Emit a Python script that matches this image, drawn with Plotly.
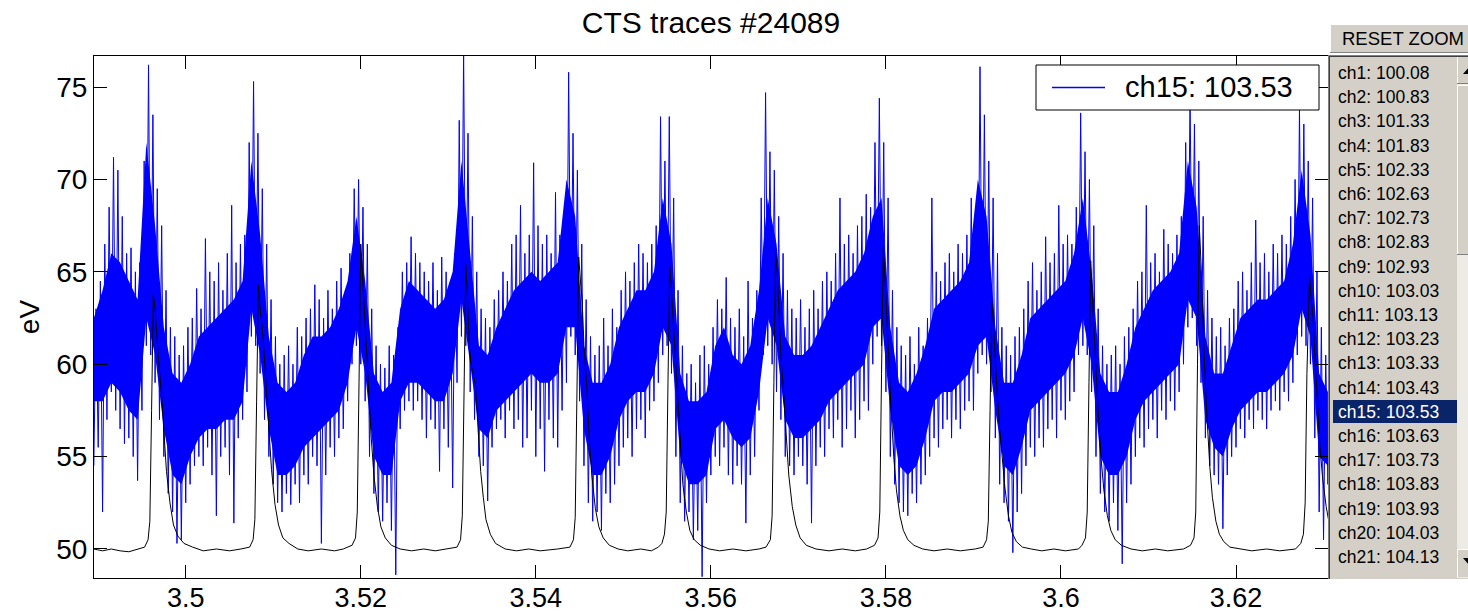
import plotly.graph_objects as go

# ---------------- data ----------------
title_text = "CTS traces #24089"
y_label = "eV"
x_tick_vals = [3.5, 3.52, 3.54, 3.56, 3.58, 3.6, 3.62]
x_tick_text = ["3.5", "3.52", "3.54", "3.56", "3.58", "3.6", "3.62"]
y_tick_vals = [50, 55, 60, 65, 70, 75]
x_range = [3.48952, 3.63051]
y_range = [48.43, 76.68]
legend_label = "ch15: 103.53"
button_label = "RESET ZOOM"
channels = ["ch1: 100.08", "ch2: 100.83", "ch3: 101.33", "ch4: 101.83", "ch5: 102.33",
            "ch6: 102.63", "ch7: 102.73", "ch8: 102.83", "ch9: 102.93", "ch10: 103.03",
            "ch11: 103.13", "ch12: 103.23", "ch13: 103.33", "ch14: 103.43", "ch15: 103.53",
            "ch16: 103.63", "ch17: 103.73", "ch18: 103.83", "ch19: 103.93", "ch20: 104.03",
            "ch21: 104.13"]
selected_channel = 14

# blue channel: per-bin max / min (bins of 0.0005 starting at 3.4895)
blue_t0 = 3.4895
blue_dt = 0.0005
blue_hi = [63.0, 64.5, 66.5, 68.5, 71.2, 70.5, 68.0, 66.0, 66.3, 65.0, 65.5,
           71.0, 76.2, 73.5, 69.5, 67.5, 64.0, 62.0, 61.5, 60.5, 61.0, 62.0,
           62.5, 64.1, 63.0, 66.8, 65.0, 64.5, 65.5, 64.0, 66.0, 68.6, 65.5, 66.5, 67.0,
           72.0, 75.3, 72.5, 69.5, 66.5, 63.5,
           61.5, 60.0, 60.5, 61.0, 60.0, 62.0, 61.5,
           62.5, 63.0, 64.3, 63.5, 62.5, 64.0, 63.0, 64.5, 65.2, 64.0, 66.0,
           69.5, 70.0, 68.5, 66.5, 63.0,
           61.0, 60.0, 59.8, 61.0, 60.5, 62.0,
           65.0, 65.5, 66.9, 66.0, 65.5,
           65.0, 64.5, 65.5, 64.0, 65.8, 65.0, 64.5, 66.0,
           73.2, 76.9, 72.5, 68.0,
           65.0, 63.0, 62.5, 62.0,
           63.5, 64.0, 65.0, 64.5, 66.5, 67.0, 68.6, 66.0, 67.0, 70.9, 67.5, 66.5, 67.0, 66.0, 69.3, 67.0, 68.0,
           75.8, 72.5, 70.5, 66.5,
           63.5, 61.5, 60.5, 61.0, 62.5, 61.0, 63.0, 62.0,
           64.0, 65.0, 64.5, 65.5, 66.5, 66.0, 65.5, 66.5, 67.5,
           73.4, 71.0, 73.4, 69.0,
           64.0, 61.0, 59.5, 60.0, 59.0, 60.5, 61.0, 60.0,
           62.0, 63.5, 63.0, 64.7, 62.5, 62.0, 63.0, 61.5, 64.5, 62.5, 64.0,
           69.0, 74.7, 71.5, 70.5, 68.0, 66.0,
           64.0, 63.0, 62.5, 63.5, 62.0, 63.0, 64.0, 63.0, 64.5,
           65.0, 64.5, 66.0, 69.0, 66.5, 67.0, 66.0, 67.5, 68.0, 69.2, 68.5,
           72.0, 74.4, 72.0, 69.0,
           64.0, 62.0, 61.0, 60.5, 61.5, 60.0, 62.0, 61.0, 62.5,
           69.0, 65.0, 64.5, 65.5, 66.0, 65.0, 66.5, 66.0, 67.0, 69.0, 67.5,
           76.1, 73.5, 71.0, 69.0,
           66.0, 62.0, 61.0, 60.5, 61.5, 62.0, 63.0,
           64.5, 65.5, 64.0, 65.0, 66.9, 65.5, 66.0, 68.6, 66.5, 67.0, 66.5, 68.5,
           73.6, 71.5, 70.0, 67.5,
           63.0, 61.0, 60.0, 60.5, 61.0, 60.0, 61.5, 62.0, 63.0,
           64.5, 65.0, 68.6, 65.5, 66.0, 65.0, 67.3, 66.5, 66.0, 67.0, 68.0,
           72.0, 74.5, 73.0, 71.0, 68.0,
           64.0, 62.5, 61.5, 62.0, 61.0, 62.5, 63.0,
           64.5, 65.0, 64.0, 65.5, 67.8, 65.5, 66.0, 65.0, 66.5, 66.0, 67.0, 66.5, 68.0, 70.0,
           73.8, 73.0, 71.0, 69.0,
           65.0, 62.0, 60.5, 60.0]
blue_lo = [54.5, 55.5, 52.0, 57.0, 58.5, 57.5, 56.5, 55.7, 56.0, 55.0, 53.7,
           57.5, 61.0, 60.5, 59.0, 57.0, 55.0, 53.0, 52.0, 50.3, 50.5, 52.5,
           53.5, 54.5, 55.0, 54.5, 55.5, 54.0, 51.8, 55.0, 55.5, 54.0, 51.4, 56.0, 57.0,
           58.5, 61.5, 61.0, 59.5, 57.0, 55.0,
           53.5, 52.5, 52.0, 53.0, 52.4, 53.5, 52.5,
           54.0, 53.5, 55.0, 54.5, 50.3, 54.0, 55.5, 55.0, 56.0, 56.5, 58.0,
           60.0, 61.0, 60.0, 58.0, 55.0,
           53.0, 52.0, 51.5, 52.5, 51.0, 48.6,
           56.5, 57.5, 58.0, 57.5, 58.0,
           57.0, 56.0, 57.0, 56.5, 54.2, 56.5, 55.5, 53.3,
           59.0, 61.5, 61.0, 58.5,
           57.0, 55.0, 54.5, 52.6,
           55.5, 56.5, 57.0, 56.0, 57.5, 56.5, 57.0, 55.5, 56.0, 57.5, 55.0, 56.5, 54.2, 57.0, 56.0, 55.5, 57.5,
           59.0, 61.5, 60.5, 58.0,
           54.5, 52.5, 51.5, 52.0, 51.0, 53.0, 52.5, 53.5,
           54.5, 55.5, 56.0, 55.0, 56.5, 57.0, 56.0, 57.5, 58.0,
           59.0, 60.5, 61.0, 59.5,
           55.0, 52.5, 51.5, 52.0, 50.5, 51.0, 48.5, 52.5,
           54.0, 55.0, 54.5, 55.5, 54.0, 53.5, 54.5, 53.5, 51.4, 54.0, 55.0,
           57.5, 60.5, 61.0, 60.0, 58.5, 57.0,
           55.0, 54.5, 54.0, 55.0, 54.5, 53.5, 51.4, 54.5, 55.5,
           55.0, 56.5, 56.0, 57.0, 55.5, 56.5, 57.5, 56.0, 57.0, 58.0, 57.5,
           60.0, 61.5, 61.0, 58.5,
           55.0, 53.5, 52.5, 52.0, 51.8, 53.0, 52.5, 53.5, 54.0,
           55.0, 56.0, 55.5, 56.5, 57.0, 56.0, 57.0, 56.5, 57.5, 58.0, 57.5,
           59.5, 60.5, 60.0, 58.5,
           56.0, 53.5, 52.5, 51.5, 49.8, 52.0, 53.0,
           54.5, 55.5, 55.0, 56.0, 55.5, 56.5, 57.0, 56.0, 57.5, 57.0, 58.0, 58.5,
           60.5, 61.0, 60.5, 58.5,
           55.0, 53.0, 52.0, 51.5, 52.5, 51.0, 49.2, 52.5, 53.5,
           55.0, 56.0, 55.5, 56.5, 57.0, 56.0, 57.5, 57.0, 58.0, 57.5, 58.5,
           60.0, 62.0, 62.5, 61.0, 59.0,
           56.0, 54.5, 54.0, 53.5, 51.1, 54.0, 55.0,
           55.5, 56.5, 56.0, 57.0, 56.5, 57.5, 57.0, 56.5, 57.5, 58.0, 57.5, 58.5, 58.0, 59.0,
           60.5, 61.5, 61.0, 60.0,
           56.0, 52.0, 50.5, 53.5]

# blue channel: dense core band (bins of 0.001 starting at 3.4895)
core_t0 = 3.4895
core_dt = 0.001
core_top = [62.5, 64.0, 66.0, 65.5, 64.5, 63.5,
            72.0, 67.5,
            62.0, 59.5, 59.0, 60.0, 61.5, 62.0, 62.5, 63.0, 63.5, 64.5,
            71.0, 67.0,
            61.5, 59.0, 58.5, 59.0, 60.5, 61.5, 61.5, 62.0, 63.0, 64.5,
            68.0, 64.5,
            59.5, 58.5, 59.0, 63.0, 64.5, 64.0, 63.5, 63.0, 63.5, 65.0,
            71.0, 66.0,
            61.0, 60.5, 62.0, 63.0, 64.0, 64.5, 65.0, 64.5, 65.0, 65.5,
            70.0, 68.0,
            61.0, 59.0, 59.0, 60.0, 62.0, 63.0, 64.0, 64.0, 65.0,
            69.0, 66.5,
            59.5, 58.0, 58.0, 58.5, 61.0, 62.0, 60.5, 60.0, 61.0, 64.0,
            69.0, 66.5,
            61.5, 60.5, 60.5, 61.0, 62.0, 63.0, 64.0, 64.5, 65.0, 66.0, 68.0,
            69.0, 62.0,
            59.0, 58.5, 59.5, 61.0, 63.0, 63.5, 64.0, 64.5, 65.5,
            70.0, 68.0,
            62.0, 59.0, 59.0, 60.5, 62.5, 63.0, 63.5, 64.0, 64.5, 66.0,
            69.0, 65.0,
            59.5, 58.5, 58.5, 60.0, 62.0, 63.0, 64.0, 64.5, 65.0, 66.0,
            71.0, 68.5,
            61.5, 59.5, 59.5, 61.0, 62.5, 63.0, 63.5, 63.5, 64.0, 64.5, 66.5,
            70.5, 67.0,
            59.5, 58.5]
core_bot = [58.0, 58.0, 59.0, 58.5, 57.5, 57.0,
            62.5, 60.5,
            56.5, 54.0, 53.5, 55.0, 56.0, 56.5, 56.5, 57.0, 57.0, 58.0,
            63.0, 60.5,
            56.5, 54.0, 54.0, 54.5, 55.5, 56.0, 56.5, 57.0, 57.5, 59.0,
            62.0, 59.5,
            55.0, 54.0, 54.0, 58.0, 59.0, 59.0, 58.5, 58.0, 58.0, 59.5,
            63.5, 60.0,
            56.5, 56.0, 57.5, 58.0, 58.5, 59.0, 59.5, 59.0, 59.0, 59.5,
            62.0, 62.0,
            56.5, 54.0, 54.0, 55.0, 57.0, 58.0, 58.5, 58.5, 59.5,
            62.0, 61.0,
            55.0, 53.5, 53.5, 54.0, 56.5, 57.0, 56.0, 55.5, 56.0, 58.5,
            62.5, 61.0,
            57.0, 56.0, 56.0, 56.5, 57.0, 58.0, 58.5, 59.0, 59.5, 60.0, 62.0,
            62.5, 57.5,
            54.5, 54.0, 54.5, 56.0, 58.0, 58.5, 58.5, 59.0, 59.5,
            61.0, 61.5,
            57.5, 54.5, 54.0, 55.5, 57.5, 58.0, 58.5, 59.0, 59.5, 60.5,
            62.5, 60.0,
            55.0, 54.0, 54.0, 55.0, 57.0, 58.0, 58.5, 59.0, 59.5, 60.0,
            63.5, 62.5,
            57.0, 55.5, 55.0, 56.5, 57.5, 58.0, 58.5, 58.5, 59.0, 59.5, 60.5,
            63.0, 61.5,
            55.0, 54.5]

# black reference trace (time, value)
black_t = [3.4895, 3.4905, 3.4915, 3.4925, 3.4935, 3.4945, 3.4953, 3.4957, 3.4959, 3.4961, 3.4962, 3.4963,
           3.4965, 3.4967, 3.4969, 3.4972, 3.4975, 3.4978, 3.4982, 3.4986, 3.4991, 3.4998, 3.5008, 3.5020,
           3.5035, 3.5050, 3.5063,
           3.5073, 3.5077, 3.5079, 3.5081, 3.5082, 3.5083, 3.5085, 3.5087, 3.5089, 3.5092, 3.5095, 3.5098,
           3.5102, 3.5106, 3.5111, 3.5118, 3.5128, 3.5140, 3.5155, 3.5170, 3.5180,
           3.5190, 3.5194, 3.5196, 3.5198, 3.5199, 3.5200, 3.5202, 3.5204, 3.5206, 3.5209, 3.5212, 3.5215,
           3.5219, 3.5223, 3.5228, 3.5235, 3.5245, 3.5258, 3.5272, 3.5285, 3.5298,
           3.5310, 3.5314, 3.5316, 3.5318, 3.5319, 3.5320, 3.5322, 3.5324, 3.5326, 3.5331, 3.5334, 3.5337,
           3.5340, 3.5343, 3.5348, 3.5354, 3.5365, 3.5378, 3.5392, 3.5405, 3.5425,
           3.5439, 3.5443, 3.5445, 3.5447, 3.5448, 3.5449, 3.5451, 3.5453, 3.5455, 3.5458, 3.5461, 3.5464,
           3.5468, 3.5472, 3.5477, 3.5484, 3.5494, 3.5505, 3.5520, 3.5532, 3.5540,
           3.5544, 3.5547, 3.5549, 3.5551, 3.5552, 3.5553, 3.5555, 3.5557, 3.5559, 3.5562, 3.5565, 3.5568,
           3.5572, 3.5576, 3.5581, 3.5588, 3.5598, 3.5610, 3.5625, 3.5640, 3.5655,
           3.5663, 3.5668, 3.5670, 3.5672, 3.5673, 3.5674, 3.5676, 3.5678, 3.5680, 3.5683, 3.5686, 3.5689,
           3.5693, 3.5697, 3.5702, 3.5709, 3.5720, 3.5735, 3.5750, 3.5765, 3.5778,
           3.5787, 3.5791, 3.5793, 3.5795, 3.5796, 3.5797, 3.5799, 3.5801, 3.5803, 3.5806, 3.5809, 3.5812,
           3.5816, 3.5820, 3.5825, 3.5832, 3.5842, 3.5855, 3.5870, 3.5885, 3.5902,
           3.5911, 3.5915, 3.5917, 3.5919, 3.5920, 3.5921, 3.5923, 3.5925, 3.5927, 3.5930, 3.5933, 3.5936,
           3.5940, 3.5944, 3.5949, 3.5956, 3.5966, 3.5978, 3.5992, 3.6005, 3.6020,
           3.6024, 3.6028, 3.6030, 3.6032, 3.6033, 3.6034, 3.6036, 3.6038, 3.6040, 3.6043, 3.6046, 3.6049,
           3.6053, 3.6057, 3.6062, 3.6069, 3.6080, 3.6093, 3.6108, 3.6122, 3.6140,
           3.6148, 3.6152, 3.6154, 3.6156, 3.6157, 3.6158, 3.6160, 3.6162, 3.6164, 3.6167, 3.6170, 3.6173,
           3.6177, 3.6181, 3.6186, 3.6193, 3.6204, 3.6218, 3.6235, 3.6250, 3.6268,
           3.6274, 3.6277, 3.6279, 3.6281, 3.6283, 3.6284, 3.6286, 3.6288, 3.6290, 3.6293, 3.6296, 3.6299,
           3.6303, 3.6306]
black_v = [50.0, 49.9, 50.0, 49.9, 49.85, 50.0, 50.1, 50.5, 51.5, 57.5, 62.3, 63.8,
           63.0, 61.3, 60.2, 58.6, 56.2, 54.2, 52.5, 51.3, 50.7, 50.3, 50.1, 49.9,
           50.0, 49.9, 50.0,
           50.1, 50.5, 51.6, 58.0, 62.8, 64.3, 63.0, 62.2, 61.0, 58.8, 56.5, 54.3,
           52.4, 51.3, 50.6, 50.3, 50.0, 49.9, 50.0, 49.9, 50.0,
           50.2, 50.6, 52.0, 59.0, 64.5, 66.5, 64.8, 63.0, 61.2, 58.5, 56.0, 54.0,
           52.3, 51.2, 50.6, 50.2, 50.0, 49.9, 50.0, 49.9, 50.0,
           50.1, 50.5, 51.8, 58.5, 63.5, 65.4, 63.5, 61.0, 60.0, 58.9, 56.5, 54.2,
           52.8, 51.6, 50.8, 50.3, 50.0, 49.9, 50.0, 49.9, 50.0,
           50.1, 50.5, 51.7, 58.5, 64.0, 65.8, 64.5, 63.4, 61.0, 59.0, 56.0, 54.0,
           52.2, 51.2, 50.6, 50.2, 50.0, 49.9, 50.0, 49.9, 50.1,
           50.3, 50.8, 52.0, 59.0, 63.8, 65.3, 64.0, 62.4, 60.5, 58.0, 55.5, 53.5,
           52.0, 51.0, 50.5, 50.2, 50.0, 49.9, 50.0, 49.9, 50.0,
           50.1, 50.5, 51.8, 59.0, 64.5, 66.1, 64.8, 62.6, 60.5, 58.5, 56.0, 54.0,
           52.3, 51.3, 50.6, 50.2, 50.0, 49.9, 50.0, 49.9, 50.0,
           50.2, 50.6, 52.0, 59.5, 64.8, 66.3, 64.6, 62.5, 60.0, 57.5, 55.0, 53.2,
           51.8, 51.0, 50.5, 50.2, 50.0, 49.9, 50.0, 49.9, 50.0,
           50.1, 50.5, 51.5, 57.5, 62.0, 63.4, 62.0, 60.0, 58.5, 56.5, 54.8, 53.3,
           51.8, 50.9, 50.4, 50.1, 50.0, 49.9, 50.0, 49.9, 50.0,
           50.2, 50.6, 52.0, 59.0, 64.0, 65.6, 63.5, 61.5, 59.5, 57.0, 54.8, 53.2,
           51.8, 51.0, 50.5, 50.2, 50.0, 49.9, 50.0, 49.9, 50.0,
           50.2, 50.6, 52.0, 60.0, 65.5, 67.5, 65.5, 62.6, 60.0, 57.0, 54.5, 52.8,
           51.5, 50.8, 50.4, 50.1, 50.0, 49.9, 50.0, 49.9, 50.0,
           50.3, 50.8, 52.5, 59.5, 63.5, 64.8, 63.5, 62.6, 60.5, 58.0, 55.5, 53.8,
           52.3, 51.5]

# ---------------- layout geometry (pixels) ----------------
W, H = 1468, 616
L, R, T, B = 94, 1328, 56, 578
FONT = "Liberation Sans, Arial, Helvetica, sans-serif"


def fx(p):
    return (p - L) / (R - L)


def fy(p):
    return (B - p) / (B - T)


# ---------------- traces ----------------
blue_x, blue_y = [], []
for i, (hi, lo) in enumerate(zip(blue_hi, blue_lo)):
    t = blue_t0 + i * blue_dt
    blue_x += [t, t + blue_dt / 2]
    blue_y += [lo, hi]

core_t = [core_t0 + k * core_dt for k in range(len(core_top))]
band_x = core_t + core_t[::-1]
band_y = core_top + core_bot[::-1]

fig = go.Figure()
fig.add_trace(go.Scatter(x=band_x, y=band_y, mode="lines", fill="toself",
                         fillcolor="#0000ff", line=dict(width=0, color="#0000ff"),
                         hoverinfo="skip", showlegend=False))
fig.add_trace(go.Scatter(x=blue_x, y=blue_y, mode="lines", name=legend_label,
                         line=dict(color="#0000ff", width=1), showlegend=False))
fig.add_trace(go.Scatter(x=black_t, y=black_v, mode="lines", name="reference",
                         line=dict(color="#000000", width=1), showlegend=False))

# ---------------- shapes: legend box and side panel ----------------
shapes = []


def rect(x0, y0, x1, y1, fill, line_color=None, lw=0):
    shapes.append(dict(type="rect", xref="paper", yref="paper",
                       x0=fx(x0), x1=fx(x1), y0=fy(y1), y1=fy(y0),
                       fillcolor=fill, line=dict(color=line_color or fill, width=lw),
                       layer="above"))


def seg(x0, y0, x1, y1, color, lw=1):
    shapes.append(dict(type="line", xref="paper", yref="paper",
                       x0=fx(x0), x1=fx(x1), y0=fy(y0), y1=fy(y1),
                       line=dict(color=color, width=lw), layer="above"))


def tri(points, color):
    path = "M " + " L ".join(f"{fx(a):.5f},{fy(b):.5f}" for a, b in points) + " Z"
    shapes.append(dict(type="path", xref="paper", yref="paper", path=path,
                       fillcolor=color, line=dict(color=color, width=0), layer="above"))


# legend
rect(1036, 65, 1319, 110, "#ffffff", "#000000", 1)
seg(1052, 87.5, 1105, 87.5, "#0000ff", 1.6)

# reset zoom button
rect(1330, 24, 1472, 53, "#d4d0c8")
seg(1330, 24.5, 1472, 24.5, "#ffffff")
seg(1330.5, 24, 1330.5, 53, "#ffffff")
seg(1330, 52.5, 1472, 52.5, "#808080")

# listbox
rect(1328, 55, 1472, 579, "#d4d0c8")
seg(1328, 55.5, 1472, 55.5, "#808080")
seg(1328, 56.5, 1472, 56.5, "#404040")
seg(1328.5, 55, 1328.5, 579, "#808080")
seg(1329.5, 56, 1329.5, 579, "#404040")
rect(1333, 400, 1457, 423, "#0a246a")

# scrollbar (partly cut by the window edge)
rect(1457, 57, 1472, 578, "#ecebe6")
rect(1457, 57, 1472, 84, "#d4d0c8")
seg(1457.5, 57, 1457.5, 84, "#ffffff")
seg(1457, 83.5, 1472, 83.5, "#808080")
tri([(1463, 74), (1469, 67), (1475, 74)], "#000000")
rect(1457, 85, 1472, 255, "#d4d0c8")
seg(1457.5, 85, 1457.5, 255, "#ffffff")
seg(1457, 85.5, 1472, 85.5, "#ffffff")
seg(1457, 254.5, 1472, 254.5, "#808080")
rect(1457, 549, 1472, 577, "#d4d0c8")
seg(1457.5, 549, 1457.5, 577, "#ffffff")
seg(1457, 549.5, 1472, 549.5, "#ffffff")
tri([(1463, 558), (1469, 565), (1475, 558)], "#000000")

# ---------------- annotations ----------------
ann = []
ann.append(dict(text=legend_label, xref="paper", yref="paper", x=fx(1123), y=fy(87.5),
                xanchor="left", yanchor="middle", showarrow=False,
                font=dict(family=FONT, size=29, color="#000000")))
ann.append(dict(text=button_label, xref="paper", yref="paper", x=fx(1340), y=fy(39),
                xanchor="left", yanchor="middle", showarrow=False,
                font=dict(family=FONT, size=18.5, color="#000000")))
for n, name in enumerate(channels):
    ann.append(dict(text=name, xref="paper", yref="paper", x=fx(1336), y=fy(73 + 24.2 * n),
                    xanchor="left", yanchor="middle", showarrow=False,
                    font=dict(family=FONT, size=17.5,
                              color="#ffffff" if n == selected_channel else "#000000")))

fig.update_layout(
    width=W, height=H, autosize=False,
    margin=dict(l=L, r=W - R, t=T, b=H - B, pad=0),
    paper_bgcolor="#ffffff", plot_bgcolor="#ffffff",
    font=dict(family=FONT, size=28, color="#000000"),
    title=dict(text=title_text, x=0.5, xref="paper", xanchor="center",
               y=1 - 22 / H, yref="container", yanchor="middle",
               font=dict(family=FONT, size=30, color="#000000")),
    xaxis=dict(range=x_range, tickvals=x_tick_vals, ticktext=x_tick_text,
               ticks="inside", ticklen=13, tickwidth=1, tickcolor="#000000",
               showline=True, linecolor="#000000", linewidth=1, mirror="ticks",
               showgrid=False, zeroline=False, automargin=False,
               ticklabelstandoff=-4,
               tickfont=dict(family=FONT, size=27, color="#000000")),
    yaxis=dict(range=y_range, tickvals=y_tick_vals,
               ticks="inside", ticklen=13, tickwidth=1, tickcolor="#000000",
               showline=True, linecolor="#000000", linewidth=1, mirror="ticks",
               showgrid=False, zeroline=False, automargin=False,
               tickfont=dict(family=FONT, size=28, color="#000000"),
               title=dict(text=y_label, standoff=8,
                          font=dict(family=FONT, size=28, color="#000000"))),
    shapes=shapes,
    annotations=ann,
    showlegend=False,
)

fig.write_html("out.html", config={"displayModeBar": False})
